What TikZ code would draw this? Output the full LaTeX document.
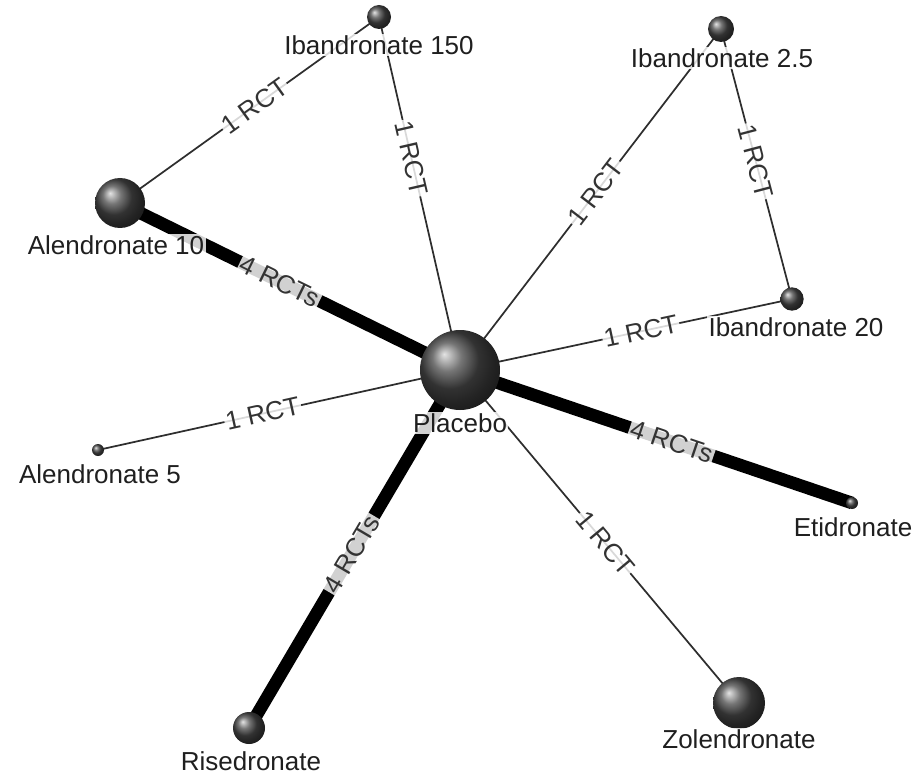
\documentclass[tikz,border=0pt]{standalone}
\usepackage{fontspec}
\setmainfont{Liberation Sans}
\begin{document}
\begin{tikzpicture}[x=0.75pt, y=-0.75pt,
  sphere/.style={circle, inner sep=0pt, minimum size=#1, shading=ball, ball color=black!72},
  drug/.style={inner sep=1pt, text=black!88, fill=white, fill opacity=0.82, text opacity=1,
               font=\fontsize{19.5}{22}\selectfont},
  thinlink/.style={draw=black!82, line width=1.3pt},
  thicklink/.style={draw=black, line width=9.5pt},
  trials/.style={sloped, inner sep=1.2pt, text=black!80, fill=white, fill opacity=0.82, text opacity=1,
                 font=\fontsize{19.5}{22}\selectfont}]
  \useasboundingbox (0,0) rectangle (920,777);

  % treatment positions
  \coordinate (pla) at (460,370);
  \coordinate (i150) at (379,17);
  \coordinate (i25) at (721,29);
  \coordinate (a10) at (120,203);
  \coordinate (i20) at (792,299);
  \coordinate (a5) at (98,450);
  \coordinate (eti) at (852,503);
  \coordinate (ris) at (249,728);
  \coordinate (zol) at (739,703);

  % comparisons
  \draw[thinlink] (a10) -- node[trials, pos=0.52] {1 RCT} (i150);
  \draw[thinlink] (i150) -- node[trials, pos=0.40] {1 RCT} (pla);
  \draw[thinlink] (pla) -- node[trials, pos=0.52] {1 RCT} (i25);
  \draw[thinlink] (i25) -- node[trials, pos=0.49] {1 RCT} (i20);
  \draw[thinlink] (pla) -- node[trials, pos=0.545] {1 RCT} (i20);
  \draw[thinlink] (a5) -- node[trials, pos=0.455] {1 RCT} (pla);
  \draw[thinlink] (pla) -- node[trials, pos=0.52] {1 RCT} (zol);
  \draw[thicklink] (a10) -- node[trials, pos=0.47] {4 RCTs} (pla);
  \draw[thicklink] (pla) -- node[trials, pos=0.54] {4 RCTs} (eti);
  \draw[thicklink] (ris) -- node[trials, pos=0.486] {4 RCTs} (pla);

  % treatment spheres
  \node[sphere=60pt] (plaS) at (pla) {};
  \node[sphere=18pt] (i150S) at (i150) {};
  \node[sphere=19.5pt] (i25S) at (i25) {};
  \node[sphere=37.5pt] (a10S) at (a10) {};
  \node[sphere=17.5pt] (i20S) at (i20) {};
  \node[sphere=9pt] (a5S) at (a5) {};
  \node[sphere=9pt] (etiS) at (eti) {};
  \node[sphere=24pt] (risS) at (ris) {};
  \node[sphere=39pt] (zolS) at (zol) {};

  % treatment names
  \node[drug] (plaT) at (460,423) {Placebo};
  \node[drug] (i150T) at (379,45) {Ibandronate 150};
  \node[drug] (i25T) at (722,58) {Ibandronate 2.5};
  \node[drug] (a10T) at (116,245) {Alendronate 10};
  \node[drug] (i20T) at (796,327) {Ibandronate 20};
  \node[drug] (a5T) at (100,474) {Alendronate 5};
  \node[drug] (etiT) at (853,527) {Etidronate};
  \node[drug] (risT) at (251,761) {Risedronate};
  \node[drug] (zolT) at (739,739) {Zolendronate};
\end{tikzpicture}
\end{document}
